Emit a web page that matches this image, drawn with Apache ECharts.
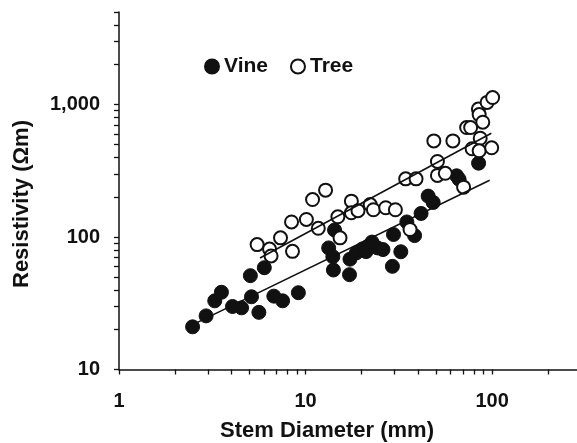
<!DOCTYPE html>
<html><head><meta charset="utf-8">
<script src="https://cdn.jsdelivr.net/npm/echarts@6/dist/echarts.min.js"></script>
<style>html,body{margin:0;padding:0;background:#fff}#c{width:577px;height:443px}</style>
</head><body><div id="c"></div>
<script>
const vineDiameter = [2.48, 2.93, 3.26, 3.54, 4.06, 4.54, 5.06, 5.13, 5.62, 6.01, 6.76, 7.53, 9.15, 13.3, 14.0, 14.3, 14.1, 17.2, 17.3, 18.7, 20.2, 21.1, 21.6, 22.7, 24.3, 26.0, 29.2, 29.6, 32.4, 34.9, 38.4, 41.6, 45.4, 48.3, 64.5, 66.5, 84.6];
const vineResistivity = [21.0, 25.4, 33.0, 38.3, 29.9, 29.2, 51.1, 35.4, 27.0, 58.7, 35.8, 33.0, 38.0, 82.8, 71.1, 113, 56.4, 52.0, 68.1, 75.9, 81.4, 77.6, 85.1, 91.6, 82.8, 80.4, 60.1, 104.5, 77.4, 130, 102.6, 150.7, 203.7, 182.4, 290, 273, 361];
const treeDiameter = [5.50, 6.41, 6.53, 7.34, 8.41, 8.51, 10.1, 10.9, 11.7, 12.8, 14.9, 15.3, 17.6, 17.6, 19.1, 22.2, 23.1, 26.9, 30.3, 34.4, 36.3, 39.1, 48.7, 50.9, 50.9, 56.1, 61.6, 70.3, 73.0, 76.7, 78.1, 84.4, 85.2, 89.1, 86.3, 85.2, 99.4, 94.0, 100.6];
const treeResistivity = [87.7, 81.1, 72.0, 98.6, 130, 78.0, 135.7, 192, 116.4, 226, 142.2, 98.6, 186.6, 152.4, 158, 176, 160.7, 166.4, 160.7, 275, 114, 275, 532, 372, 292, 303, 532, 238, 671, 671, 464, 925, 840, 736, 557, 448, 472, 1039, 1130];
const vineFitDiameter = [2.6, 97];
const vineFitResistivity = [22.5, 268];
const treeFitDiameter = [5.7, 99];
const treeFitResistivity = [69.5, 608];
const xTickLabels = [1, 10, 100];
const xTicks = [1, 2, 3, 4, 5, 6, 7, 8, 9, 10, 20, 30, 40, 50, 60, 70, 80, 90, 100, 200];
const yTickLabels = [10, 100, 1000];
const yTicks = [10, 20, 30, 40, 50, 60, 70, 80, 90, 100, 200, 300, 400, 500, 600, 700, 800, 900, 1000, 2000, 3000, 4000, 5000];
const seriesNames = ['Vine', 'Tree'];
const xTitle = 'Stem Diameter (mm)';
const yTitle = 'Resistivity (Ωm)';

const zip = (a, b) => a.map((v, i) => [v, b[i]]);
const FONT = '"Liberation Sans", Arial, sans-serif';
const chart = echarts.init(document.getElementById('c'), null, {renderer: 'canvas'});
chart.setOption({
  animation: false,
  backgroundColor: '#fff',
  grid: {left: 119, top: 12, right: 0, bottom: 73.5, containLabel: false},
  legend: {
    data: seriesNames, left: 199, top: 51, icon: 'circle', itemWidth: 14, itemHeight: 14, itemGap: 22,
    textStyle: {fontFamily: FONT, fontWeight: 'bold', fontSize: 21, color: '#111'}
  },
  xAxis: {
    type: 'log', logBase: 10, min: 1, max: 285,
    axisLine: {lineStyle: {color: '#111', width: 1.5}},
    axisTick: {show: true, length: 5, customValues: xTicks, lineStyle: {color: '#111', width: 1.3}},
    axisLabel: {customValues: xTickLabels, margin: 22, fontFamily: FONT, fontWeight: 'bold', fontSize: 20, color: '#111',
      formatter: v => String(Math.round(v))},
    splitLine: {show: false}, minorTick: {show: false}
  },
  yAxis: {
    type: 'log', logBase: 10, min: 10, max: 5000,
    axisLine: {lineStyle: {color: '#111', width: 1.5}},
    axisTick: {show: true, length: 5, customValues: yTicks, lineStyle: {color: '#111', width: 1.3}},
    axisLabel: {customValues: yTickLabels, margin: 19, fontFamily: FONT, fontWeight: 'bold', fontSize: 20, color: '#111',
      formatter: v => Math.round(v).toLocaleString('en-US')},
    splitLine: {show: false}, minorTick: {show: false}
  },
  graphic: [
    {type: 'text', x: 327, y: 431, style: {text: xTitle, fontFamily: FONT, fontWeight: 'bold', fontSize: 22, fill: '#111', textAlign: 'center', textVerticalAlign: 'middle'}},
    {type: 'text', x: 22, y: 204, rotation: Math.PI / 2, style: {text: yTitle, fontFamily: FONT, fontWeight: 'bold', fontSize: 22, fill: '#111', textAlign: 'center', textVerticalAlign: 'middle'}}
  ],
  series: [
    {name: 'Vine', type: 'scatter', symbol: 'circle', symbolSize: 14, z: 2,
      itemStyle: {color: '#111', borderColor: '#111', borderWidth: 1, opacity: 1},
      data: zip(vineDiameter, vineResistivity)},
    {name: 'Tree', type: 'scatter', symbol: 'circle', symbolSize: 13, z: 3,
      itemStyle: {color: '#fff', borderColor: '#111', borderWidth: 2, opacity: 1},
      data: zip(treeDiameter, treeResistivity)},
    {name: 'VineFit', type: 'line', symbol: 'none', z: 4, silent: true,
      lineStyle: {color: '#111', width: 1.6}, data: zip(vineFitDiameter, vineFitResistivity)},
    {name: 'TreeFit', type: 'line', symbol: 'none', z: 4, silent: true,
      lineStyle: {color: '#111', width: 1.6}, data: zip(treeFitDiameter, treeFitResistivity)}
  ]
});
</script></body></html>
